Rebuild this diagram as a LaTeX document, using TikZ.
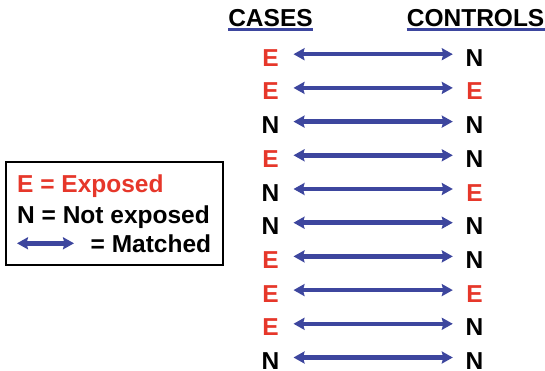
\documentclass[tikz,border=0pt]{standalone}
\usepackage{fontspec}
\setmainfont{Liberation Sans}
\usetikzlibrary{arrows.meta, positioning}
\definecolor{exred}{HTML}{E6372A}
\definecolor{matchblue}{HTML}{3D469E}

\begin{document}
\begin{tikzpicture}[
  x=1pt, y=-1pt,
  every node/.style={inner sep=0pt, font=\fontsize{24.5}{28}\selectfont\bfseries},
  letter/.style={anchor=base, minimum width=18pt},
  code E/.style={letter, text=exred},
  code N/.style={letter, text=black},
  matched/.style={draw=matchblue, line width=4.5pt,
    {Stealth[length=11pt, width=12pt, inset=1.5pt]}-{Stealth[length=11pt, width=12pt, inset=1.5pt]}},
  heading/.style={anchor=base},
  underline/.style={draw=matchblue, line width=2.5pt},
  legendbox/.style={draw, line width=2pt, minimum width=216.6pt, minimum height=102.3pt},
  legend text/.style={anchor=base west}
]
\useasboundingbox (0,0) rectangle (545,371);

% column headings
\node[heading] (cases) at (270.5,27) {CASES};
\node[heading, anchor=base east] (controls) at (544.5,27) {CONTROLS};
\draw[underline] ([yshift=-2.7pt]cases.base west) -- ([yshift=-2.7pt]cases.base east);
\draw[underline] ([yshift=-2.7pt]controls.base west) -- ([yshift=-2.7pt]controls.base east);

% matched pairs
\foreach \a/\b [count=\i] in {E/N, E/E, N/N, E/N, N/E, N/N, E/N, E/E, E/N, N/N} {
  \node[code \a] (case\i) at (270.5, 32.5+33.7*\i) {\a};
  \node[code \b] (ctrl\i) at (474.5, 32.5+33.7*\i) {\b};
  \draw[matched, shorten <=13.8pt, shorten >=12.5pt]
    ([yshift=12pt]case\i.base east) -- ([yshift=12pt]ctrl\i.base west);
}

% legend
\node[legendbox] (legend) at (114.5,213.35) {};
\node[legend text, text=exred] (exposed) at (17,193) {E = Exposed};
\node[legend text] (notexposed) at (17,223) {N = Not exposed};
\node[legend text] (matchtext) at (90.5,252) {= Matched};
\coordinate (keyleft) at (17,243.3);
\draw[matched, shorten >=16.5pt] (keyleft) -- ([yshift=8.7pt]matchtext.base west);
\end{tikzpicture}
\end{document}
